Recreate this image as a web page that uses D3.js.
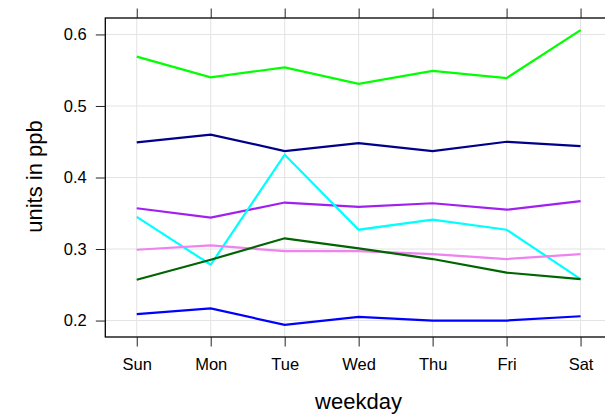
<!DOCTYPE html>
<html>
<head>
<meta charset="utf-8">
<script src="https://cdn.jsdelivr.net/npm/d3@7"></script>
<style>
  html, body { margin: 0; padding: 0; background: #fff; }
  svg { display: block; }
  text { font-family: "Liberation Sans", Arial, sans-serif; fill: #000; }
</style>
</head>
<body>
<svg id="chart" width="605" height="416"></svg>
<script>
const days = ["Sun", "Mon", "Tue", "Wed", "Thu", "Fri", "Sat"];
const yTicks = [0.2, 0.3, 0.4, 0.5, 0.6];
const seriesNames = ["lime", "navy", "purple", "cyan", "violet", "darkgreen", "blue"];
const seriesColors = ["#00FF00", "#00008B", "#A020F0", "#00FFFF", "#EE82EE", "#006400", "#0000FF"];
const limeValues      = [0.569, 0.540, 0.554, 0.531, 0.549, 0.539, 0.606];
const navyValues      = [0.449, 0.460, 0.437, 0.448, 0.437, 0.450, 0.444];
const purpleValues    = [0.357, 0.344, 0.365, 0.359, 0.364, 0.355, 0.367];
const cyanValues      = [0.345, 0.278, 0.432, 0.327, 0.341, 0.327, 0.258];
const violetValues    = [0.299, 0.305, 0.297, 0.297, 0.293, 0.286, 0.293];
const darkgreenValues = [0.257, 0.285, 0.315, 0.301, 0.286, 0.267, 0.258];
const blueValues      = [0.209, 0.217, 0.194, 0.205, 0.200, 0.200, 0.206];
const allValues = [limeValues, navyValues, purpleValues, cyanValues, violetValues, darkgreenValues, blueValues];

const svg = d3.select("#chart");
const pLeft = 105.3, pRight = 612, pTop = 18, pBottom = 337;

const x = d3.scalePoint().domain(days).range([pLeft, pRight]).padding(0.425);
const y = d3.scaleLinear().domain([0.177, 0.623]).range([pBottom, pTop]);

// gridlines
const grid = svg.append("g");
grid.selectAll("line.v").data(days).enter().append("line")
  .attr("class", "v")
  .attr("x1", d => x(d)).attr("x2", d => x(d))
  .attr("y1", pTop).attr("y2", pBottom)
  .attr("stroke", "#e3e3e3").attr("stroke-width", 1);
grid.selectAll("line.h").data(yTicks).enter().append("line")
  .attr("class", "h")
  .attr("y1", d => y(d)).attr("y2", d => y(d))
  .attr("x1", pLeft).attr("x2", pRight)
  .attr("stroke", "#e3e3e3").attr("stroke-width", 1);

// lines
const line = d3.line().x((d, i) => x(days[i])).y(d => y(d));
svg.append("g").selectAll("path").data(allValues).enter().append("path")
  .attr("d", d => line(d))
  .attr("fill", "none")
  .attr("stroke", (d, i) => seriesColors[i])
  .attr("stroke-width", 2.2);

// panel border
svg.append("rect")
  .attr("x", pLeft).attr("y", pTop)
  .attr("width", pRight - pLeft).attr("height", pBottom - pTop)
  .attr("fill", "none").attr("stroke", "#000").attr("stroke-width", 1.3);

// axes
const fs = "16.5px";
const ax = svg.append("g").attr("transform", `translate(${pLeft},0)`)
  .call(d3.axisLeft(y).tickValues(yTicks).tickSize(9.5).tickSizeOuter(0).tickPadding(9).tickFormat(d3.format(".1f")));
ax.select(".domain").remove();
ax.selectAll("text").style("font-size", fs);
ax.selectAll("line").attr("stroke", "#222");

const bx = svg.append("g").attr("transform", `translate(0,${pBottom})`)
  .call(d3.axisBottom(x).tickSize(9.5).tickSizeOuter(0).tickPadding(12));
bx.select(".domain").remove();
bx.selectAll("text").style("font-size", fs);
bx.selectAll("line").attr("stroke", "#222");

const tx = svg.append("g").attr("transform", `translate(0,${pTop})`)
  .call(d3.axisTop(x).tickSize(9.5).tickSizeOuter(0).tickFormat(""));
tx.select(".domain").remove();
tx.selectAll("line").attr("stroke", "#222");

svg.selectAll(".tick text").attr("fill", "#000");
svg.selectAll("g.tick").attr("font-family", null);
svg.selectAll("g").filter(function() { return this.hasAttribute("font-family"); }).attr("font-family", null).attr("font-size", null);

// axis titles
svg.append("text")
  .attr("x", 358.5).attr("y", 409)
  .attr("text-anchor", "middle")
  .style("font-size", "22px")
  .text("weekday");

svg.append("text")
  .attr("transform", "translate(42,176.5) rotate(-90)")
  .attr("text-anchor", "middle")
  .style("font-size", "22px")
  .text("units in ppb");
</script>
</body>
</html>
